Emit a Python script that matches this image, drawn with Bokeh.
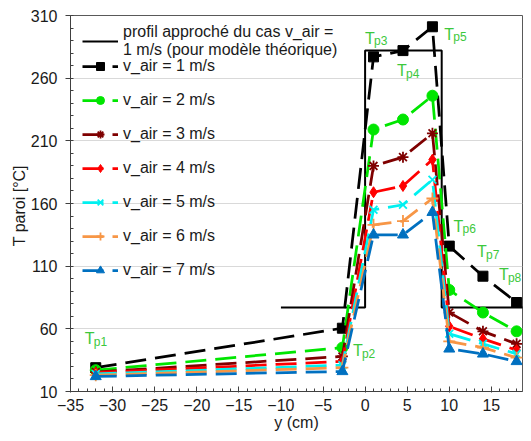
from bokeh.plotting import figure
from bokeh.models import Legend, LegendItem, FixedTicker, Range1d
from bokeh.embed import file_html
from bokeh.resources import INLINE
from bokeh.core.properties import value

FONT = "Liberation Sans"

# ---- data -------------------------------------------------------------
positions_cm = [-32, -2.7, 1, 4.5, 8, 10, 14, 18]
t_v1 = [29, 60.5, 277, 282, 301, 126, 102, 81]
t_v2 = [27, 45, 219, 227, 246, 91, 73, 58]
t_v3 = [25.5, 38, 190, 197, 216, 73, 58, 48]
t_v4 = [25, 34, 169, 174, 195, 62, 52, 43]
t_v5 = [24, 31, 155, 159, 179, 56, 48, 40]
t_v6 = [23, 29, 143, 146, 164, 50, 45, 37]
t_v7 = [22, 26, 135, 135, 153, 44, 40, 34]
series_values = [t_v1, t_v2, t_v3, t_v4, t_v5, t_v6, t_v7]
series_labels = ["v_air = 1 m/s", "v_air = 2 m/s", "v_air = 3 m/s", "v_air = 4 m/s",
                 "v_air = 5 m/s", "v_air = 6 m/s", "v_air = 7 m/s"]

profile_x = [-10, 0, 0, 9.1, 9.1, 18.9]
profile_y = [77, 77, 282, 282, 77, 77]
profile_label = "profil approché du cas v_air =\n1 m/s (pour modèle théorique)"

sensor_subs = ["p1", "p2", "p3", "p4", "p5", "p6", "p7", "p8"]
sensor_label_x = [-33.3, -1.45, 0.0, 3.8, 9.4, 10.5, 13.3, 15.9]
sensor_label_y = [52, 42.5, 292, 266, 295, 142, 121.5, 103]

y_ticks = [10, 60, 110, 160, 210, 260, 310]
x_ticks = [-35, -30, -25, -20, -15, -10, -5, 0, 5, 10, 15]

# ---- styles -----------------------------------------------------------
colors = ["#000000", "#00e600", "#7f0000", "#ff0000", "#00f0f0", "#f79646", "#0070c0"]
markers = ["square", "circle", "asterisk", "diamond", "x", "cross", "triangle"]
msizes = [10, 11, 11, 11, 11, 12, 11]
filled = [True, True, False, True, False, False, True]
label_green = "#3cc83c"
text_col = "#1a1a1a"

p = figure(width=523, height=433, output_backend="svg", toolbar_location=None,
           x_range=Range1d(-35, 18.7), y_range=Range1d(10, 310),
           min_border_left=70, min_border_right=1, min_border_top=15, min_border_bottom=40)
p.background_fill_color = "white"
p.border_fill_color = "white"
p.outline_line_color = "#595959"
p.outline_line_width = 1

p.xgrid.visible = False
p.ygrid.grid_line_color = "#d9d9d9"
p.ygrid.grid_line_width = 1

p.yaxis.ticker = FixedTicker(ticks=y_ticks, minor_ticks=list(range(10, 311, 10)))
p.xaxis.ticker = FixedTicker(ticks=x_ticks, minor_ticks=list(range(-35, 19)))

for ax in (p.xaxis[0], p.yaxis[0]):
    ax.axis_line_color = "#404040"
    ax.major_tick_line_color = "#404040"
    ax.minor_tick_line_color = "#404040"
    ax.major_label_text_font = FONT
    ax.major_label_text_font_size = "16px"
    ax.major_label_text_color = text_col
    ax.axis_label_text_font = FONT
    ax.axis_label_text_font_size = "16px"
    ax.axis_label_text_font_style = "normal"
    ax.axis_label_text_color = text_col
    ax.minor_tick_in = 3
    ax.minor_tick_out = 0

p.yaxis.major_tick_out = 5
p.yaxis.major_tick_in = 0
p.yaxis.major_label_standoff = 8
p.yaxis.axis_label = "T paroi  [°C]"
p.yaxis.axis_label_standoff = 0

p.xaxis.major_tick_out = 1
p.xaxis.major_tick_in = 5
p.xaxis.major_label_standoff = 6
p.xaxis.axis_label = "y (cm)"
p.xaxis.axis_label_standoff = 0

# profile
prof = p.line(profile_x, profile_y, line_color="black", line_width=2)

items = []
for vals, lab, c, m, s, f in zip(series_values, series_labels, colors, markers, msizes, filled):
    ln = p.line(positions_cm, vals, line_color=c, line_width=2.75, line_dash="21 9")
    sc = p.scatter(positions_cm, vals, marker=m, size=s, line_color=c,
                   fill_color=c if f else None, line_width=1.8 if not f else 1)
    items.append(LegendItem(label=value(lab), renderers=[ln, sc]))

# sensor labels
p.text(x=sensor_label_x, y=sensor_label_y, text=["T"] * len(sensor_subs),
       text_font=value(FONT), text_font_size="16px", text_color=label_green,
       text_baseline="alphabetic", text_align="left")
p.text(x=sensor_label_x, y=sensor_label_y, text=sensor_subs,
       text_font=value(FONT), text_font_size="12px", text_color=label_green,
       text_baseline="alphabetic", text_align="left", x_offset=9, y_offset=3)

common = dict(border_line_alpha=0, background_fill_alpha=0, padding=0, margin=0,
              label_text_font=FONT, label_text_font_size="16px", label_text_color=text_col,
              glyph_width=36, label_standoff=5)

leg1 = Legend(items=[LegendItem(label=value(profile_label), renderers=[prof])],
              location=(12, 332), glyph_height=20, label_height=20, spacing=0, **common)
leg2 = Legend(items=items, location=(12, 111), glyph_height=20, label_height=20,
              spacing=14, **common)
p.add_layout(leg1)
p.add_layout(leg2)

open("out.html", "w").write(file_html(p, INLINE))
